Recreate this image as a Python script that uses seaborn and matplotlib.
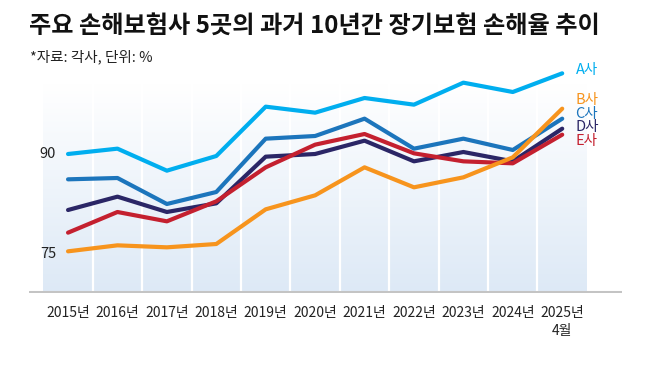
import numpy as np
import pandas as pd
import matplotlib
matplotlib.use("Agg")
import matplotlib.pyplot as plt
from matplotlib.colors import LinearSegmentedColormap
import seaborn as sns

years = ["2015년", "2016년", "2017년", "2018년", "2019년", "2020년",
         "2021년", "2022년", "2023년", "2024년", "2025년\n4월"]
a_vals = [90.0, 90.8, 87.5, 89.7, 97.1, 96.2, 98.4, 97.4, 100.7, 99.3, 102.1]
b_vals = [75.4, 76.3, 76.0, 76.5, 81.7, 83.8, 88.0, 85.0, 86.5, 89.5, 96.8]
c_vals = [86.2, 86.4, 82.5, 84.3, 92.3, 92.7, 95.3, 90.8, 92.3, 90.6, 95.3]
d_vals = [81.6, 83.6, 81.3, 82.6, 89.6, 90.0, 92.0, 88.9, 90.3, 88.9, 93.8]
e_vals = [78.2, 81.3, 79.9, 82.9, 88.0, 91.4, 93.0, 90.1, 88.9, 88.6, 92.9]
series_names = ["A사", "C사", "D사", "E사", "B사"]
series_vals = [a_vals, c_vals, d_vals, e_vals, b_vals]
colors = {"A사": "#00aeef", "B사": "#f7941d", "C사": "#1c75bc",
          "D사": "#2b2666", "E사": "#c4202f"}
label_y = {"A사": 102.6, "B사": 98.1, "C사": 96.0, "D사": 94.0, "E사": 92.0}
yticks = [75, 90]

rows = []
for name, vals in zip(series_names, series_vals):
    for i, v in enumerate(vals):
        rows.append({"x": i, "value": v, "company": name})
df = pd.DataFrame(rows)

sns.set_style("white")
plt.rcParams['font.family'] = ['Noto Sans CJK KR', 'DejaVu Sans']

fig = plt.figure(figsize=(6.54, 3.68), dpi=100)
W, H = 654, 368
ax = fig.add_axes([29 / W, (H - 293) / H, (622 - 29) / W, (293 - 60) / H])
ymin, ymax = 69.15, 104.1
ax.set_xlim(-0.79, 11.21)
ax.set_ylim(ymin, ymax)

# gradient background
cmap = LinearSegmentedColormap.from_list("g", ["#dde9f6", "#ffffff"])
grad = np.linspace(0, 1, 256).reshape(-1, 1)
ax.imshow(grad, extent=[-0.5, 10.5, ymin, 100.5], origin="lower", cmap=cmap,
          aspect="auto", zorder=0)
for k in range(10):
    ax.axvline(k + 0.5, color="white", lw=1.6, zorder=1)

sns.lineplot(data=df, x="x", y="value", hue="company", hue_order=series_names,
             palette=colors, lw=3.0, legend=False, ax=ax, zorder=3,
             solid_capstyle="round")

ax.axhline(ymin + 0.12, color="#c4c4c4", lw=2.2, zorder=4)

for name in series_names:
    ax.text(10.27, label_y[name], name, color=colors[name], fontsize=10.5,
            va="center", ha="left")

for t in yticks:
    ax.text(-0.57, t, str(t), fontsize=10.5, va="center", ha="left", color="#222222")

for sp in ax.spines.values():
    sp.set_visible(False)
ax.set_xticks([])
ax.set_yticks([])
ax.set_xlabel("")
ax.set_ylabel("")

for i, lab in enumerate(years):
    ax.text(i, ymin - 1.9, lab, fontsize=10, ha="center", va="top",
            color="#222222", linespacing=1.4)

fig.text(29 / W, 1 - 26 / H, "주요 손해보험사 5곳의 과거 10년간 장기보험 손해율 추이",
         fontsize=17.4, fontweight="bold", va="center", ha="left", color="#111111")
fig.text(30 / W, 1 - 57 / H, "*자료: 각사, 단위: %", fontsize=10.5, va="center",
         ha="left", color="#222222")

fig.savefig("out.png", dpi=100)
